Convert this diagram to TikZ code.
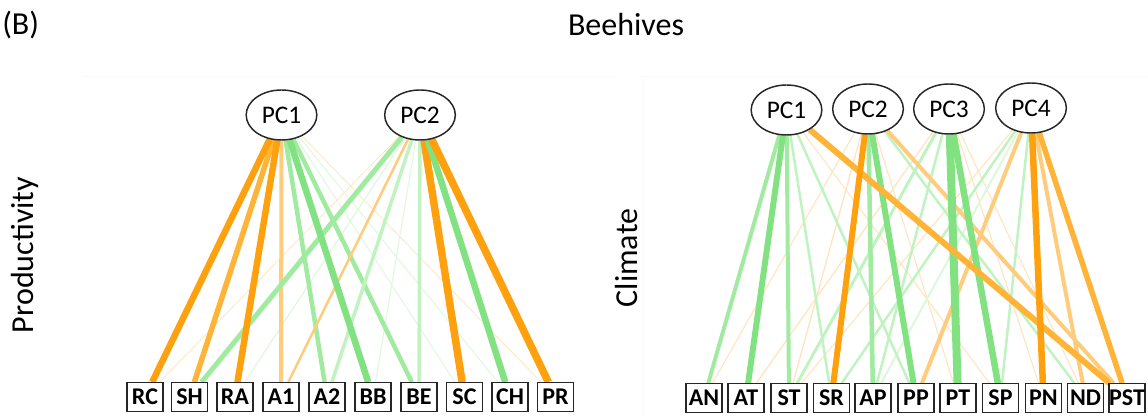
\documentclass[tikz,border=0pt]{standalone}
\usepackage{fontspec}
\setmainfont{Carlito}
\usetikzlibrary{shapes.geometric,backgrounds}

% loading colours: orange = negative, green = positive
\definecolor{or1}{RGB}{255,160,15}
\definecolor{or2}{RGB}{255,180,55}
\definecolor{or3}{RGB}{255,204,125}
\definecolor{or4}{RGB}{255,228,190}
\definecolor{gr1}{RGB}{130,226,130}
\definecolor{gr2}{RGB}{160,235,160}
\definecolor{gr3}{RGB}{192,243,192}
\definecolor{gr4}{RGB}{222,248,222}
\definecolor{frame}{RGB}{249,249,249}

\begin{document}
\begin{tikzpicture}[x=0.75pt,y=-0.75pt,
  pc/.style={ellipse, draw=black!85, line width=1.1pt, fill=white,
    minimum width=53pt, minimum height=37.5pt, inner sep=0pt,
    font=\fontsize{19}{19}\selectfont},
  var/.style={rectangle, draw=black!85, line width=0.8pt, fill=white,
    minimum width=27pt, minimum height=21.5pt, inner sep=0pt,
    font=\bfseries\fontsize{18}{18}\selectfont},
  title/.style={font=\fontsize{24}{24}\selectfont, inner sep=0pt},
  panel/.style={draw=frame, line width=0.75pt}]
\useasboundingbox (0,0) rectangle (1148,416);

% faint panel frames
\draw[panel] (82,77) -- (618,77);
\draw[panel] (1148,77) -- (643,77) -- (643,416);

% headings
\node[title, anchor=west] (lab) at (2,25) {(B)};
\node[title] (ttl) at (626,25) {Beehives};
\node[title, rotate=90] (prod) at (25,255) {Productivity};
\node[title, rotate=90] (clim) at (626,258) {Climate};

% productivity panel
\node[pc] (LP1) at (281.5,115) {PC1};
\node[pc] (LP2) at (420,115) {PC2};
\foreach \n/\x in {RC/145,SH/189.5,RA/235,A1/281,A2/327,BB/373,BE/419,SC/464.5,CH/510,PR/555.5}
  \node[var] (\n) at (\x,397) {\n};

% climate panel
\node[pc] (RP1) at (786.5,110) {PC1};
\node[pc] (RP2) at (868,109) {PC2};
\node[pc] (RP3) at (949,109) {PC3};
\node[pc] (RP4) at (1031,108) {PC4};
\foreach \n/\x in {AN/704,AT/746,ST/789,SR/831.5,AP/873,PP/916,PT/958,SP/1000.5,PN/1043.5,ND/1085.5,PST/1127}
  \node[var] (\n) at (\x,398) {\n};

\begin{pgfonlayer}{background}
  % productivity loadings
  \foreach \a/\b/\c/\w in {
    LP1/SC/gr4/1, LP1/CH/gr4/1, LP1/PR/or4/0.8, LP2/RC/or4/0.8, LP2/RA/gr4/1.2,
    LP2/BB/gr4/1, LP1/SH/or2/5.5, LP1/A1/or3/4, LP1/A2/gr2/4.5, LP1/BE/gr2/4.5,
    LP2/A1/or3/2.5, LP2/A2/gr3/3.5, LP2/BE/gr3/3.5, LP2/SH/gr2/5,
    LP1/RC/or1/6.5, LP1/RA/or1/6.5, LP1/BB/gr1/6.5,
    LP2/SC/or1/7.5, LP2/CH/gr1/6.5, LP2/PR/or1/7.5}
    \draw[draw=\c, line width=\w*0.75pt] (\a) -- (\b);
  % climate loadings
  \foreach \a/\b/\c/\w in {
    RP3/AT/or4/1.3, RP2/ST/or4/1.3, RP2/AN/or4/1.1, RP1/SP/or4/1.1, RP2/PT/or4/1.1,
    RP3/PN/or4/1.1, RP4/AP/or4/1.1, RP3/ND/or4/1.1, RP4/ST/or4/1.1,
    RP4/AP/gr4/2, RP4/SR/gr3/2.5, RP4/SP/gr3/2.5, RP2/ND/gr3/2.5, RP3/AP/gr3/2.5,
    RP3/ST/gr3/3, RP1/SR/gr3/2.5, RP1/PP/gr3/2.5,
    RP1/AN/gr2/4, RP1/ST/gr2/4, RP2/AP/gr2/4.5,
    RP2/PST/or3/4, RP4/ND/or3/4, RP4/PP/or3/4,
    RP1/AT/gr1/6, RP2/PP/gr1/6, RP3/SP/gr1/6.5, RP3/PT/gr1/8,
    RP1/PST/or2/6, RP2/SR/or1/6, RP4/PST/or2/5.5, RP4/PN/or1/6.5}
    \draw[draw=\c, line width=\w*0.75pt] (\a) -- (\b);
\end{pgfonlayer}
\end{tikzpicture}
\end{document}
